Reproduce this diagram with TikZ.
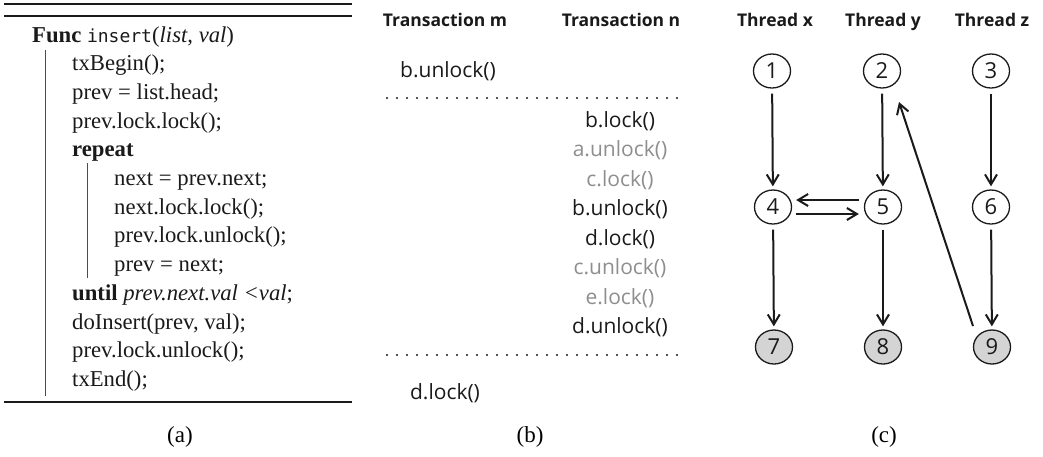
\documentclass[tikz,border=0pt]{standalone}
\usepackage{fontspec}
\setmainfont{Liberation Serif}
\setmonofont{DejaVu Sans Mono}
\newfontfamily\uisans{Open Sans}
\usetikzlibrary{arrows.meta,shapes.geometric}

\definecolor{ink}{HTML}{1A1A1A}
\definecolor{faded}{HTML}{8E8E8E}
\definecolor{donefill}{HTML}{D4D4D4}

\tikzset{
  codeline/.style={anchor=base west, inner sep=0pt, text=ink,
    font=\fontsize{22.7}{26}\selectfont},
  rulebar/.style={line width=1.8pt, ink},
  levelbar/.style={line width=1pt, black!70},
  caption/.style={inner sep=0pt, font=\fontsize{23}{26}\selectfont},
  colhead/.style={anchor=base, inner sep=0pt, text=ink, font=\uisans\bfseries\fontsize{17.5}{20}\selectfont},
  op/.style={inner sep=0pt, text=ink, font=\uisans\fontsize{21}{24}\selectfont},
  opfaded/.style={op, text=faded},
  sepline/.style={line width=2.2pt, line cap=round, dash pattern=on 0pt off 10pt, ink},
  event/.style={ellipse, draw=ink, line width=1.3pt, minimum width=37pt, minimum height=34pt,
    inner sep=0pt, text=ink, font=\uisans\fontsize{22}{24}\selectfont},
  doneevent/.style={event, fill=donefill},
  arr/.style={line width=2pt, ink, -{Straight Barb[length=10pt,width=12pt]}},
}

\begin{document}
\begin{tikzpicture}[x=1pt,y=-1pt]
\useasboundingbox (0,0) rectangle (1043,456);

% ---------- (a) pseudo-code ----------
\draw[rulebar] (4,4) -- (352,4);
\draw[rulebar] (4,16) -- (352,16);
\draw[rulebar] (4,402) -- (352,402);

\node[codeline] (c0)  at (32,42)    {\textbf{Func} \texttt{\fontsize{18}{20}\selectfont insert}(\textit{list}, \textit{val})};
\node[codeline] (c1)  at (72,70.7)  {txBegin();};
\node[codeline] (c2)  at (72,99.4)  {prev = list.head;};
\node[codeline] (c3)  at (72,128.1) {prev.lock.lock();};
\node[codeline] (c4)  at (72,156.8) {\textbf{repeat}};
\node[codeline] (c5)  at (114,185.5) {next = prev.next;};
\node[codeline] (c6)  at (114,214.2) {next.lock.lock();};
\node[codeline] (c7)  at (114,242.9) {prev.lock.unlock();};
\node[codeline] (c8)  at (114,271.6) {prev = next;};
\node[codeline] (c9)  at (72,300.3) {\textbf{until} \textit{prev.next.val <val};};
\node[codeline] (c10) at (72,329)   {doInsert(prev, val);};
\node[codeline] (c11) at (72,357.7) {prev.lock.unlock();};
\node[codeline] (c12) at (72,386.4) {txEnd();};

\draw[levelbar] (45,50) -- (45,396);
\draw[levelbar] (87,163) -- (87,278);

\node[caption] (capa) at (180,437) {(a)};

% ---------- (b) interleaving of two transactions ----------
\node[colhead] (hm) at (445,26.5) {Transaction m};
\node[colhead] (hn) at (621,26.5) {Transaction n};

\node[op] (m1) at (448,71) {b.unlock()};
\draw[sepline] (387,98) -- (681,98);

\node[op]      (n1) at (620,121) {b.lock()};
\node[opfaded] (n2) at (620,150.5) {a.unlock()};
\node[opfaded] (n3) at (620,180) {c.lock()};
\node[op]      (n4) at (620,209.5) {b.unlock()};
\node[op]      (n5) at (620,239) {d.lock()};
\node[opfaded] (n6) at (620,268.5) {c.unlock()};
\node[opfaded] (n7) at (620,298) {e.lock()};
\node[op]      (n8) at (620,327.5) {d.unlock()};

\draw[sepline] (387,355) -- (681,355);
\node[op] (m2) at (445,393) {d.lock()};

\node[caption] (capb) at (530,437) {(b)};

% ---------- (c) happens-before graph ----------
\node[colhead] (tx) at (775,26.5) {Thread x};
\node[colhead] (ty) at (883,26.5) {Thread y};
\node[colhead] (tz) at (992,26.5) {Thread z};

\node[event] (e1) at (772,71) {1};
\node[event] (e2) at (882,71) {2};
\node[event] (e3) at (991,71) {3};
\node[event] (e4) at (773,207) {4};
\node[event] (e5) at (883,207) {5};
\node[event] (e6) at (991,207) {6};
\node[doneevent] (e7) at (774,347) {7};
\node[doneevent] (e8) at (883,347) {8};
\node[doneevent] (e9) at (992,347) {9};

\draw[arr, shorten <=5pt, shorten >=3pt] (e1) -- (e4);
\draw[arr, shorten <=5pt, shorten >=3pt] (e2) -- (e5);
\draw[arr, shorten <=5pt, shorten >=3pt] (e3) -- (e6);
\draw[arr, shorten <=5pt, shorten >=3pt] (e4) -- (e7);
\draw[arr, shorten <=5pt, shorten >=3pt] (e5) -- (e8);
\draw[arr, shorten <=5pt, shorten >=3pt] (e6) -- (e9);

\draw[arr, shorten <=5pt, shorten >=4pt] ([yshift=7pt]e5.west) -- ([yshift=7pt]e4.east);
\draw[arr, shorten <=4pt, shorten >=5pt] ([yshift=-7pt]e4.east) -- ([yshift=-7pt]e5.west);

\draw[arr] ([shift={(-19,-21)}]e9.center) -- ([shift={(17,31)}]e2.center);

\node[caption] (capc) at (884,437) {(c)};
\end{tikzpicture}
\end{document}
